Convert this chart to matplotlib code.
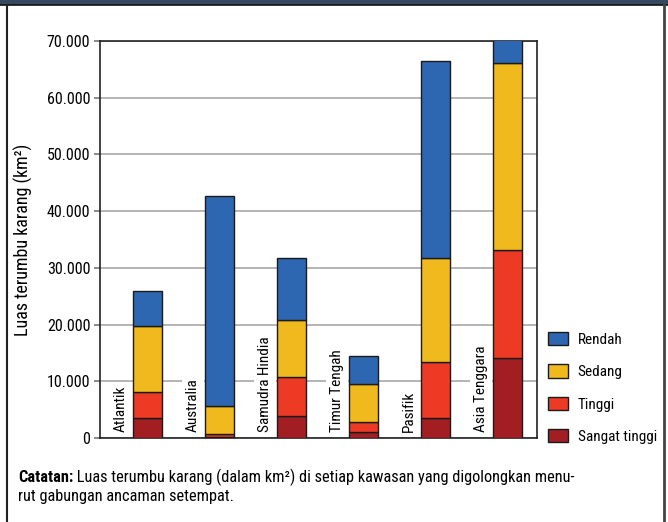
import numpy as np
import matplotlib.pyplot as plt
from matplotlib.patches import Rectangle
from matplotlib.lines import Line2D

plt.rcParams['font.family'] = ['Roboto Condensed', 'DejaVu Sans']

regions = ['Atlantik', 'Australia', 'Samudra Hindia', 'Timur Tengah', 'Pasifik', 'Asia Tenggara']
# km2 per threat level (stacked bottom -> top)
sangat_tinggi = [3500, 150, 3900, 1100, 3500, 14100]
tinggi = [4600, 500, 6900, 1700, 9900, 19100]
sedang = [11700, 5000, 10000, 6700, 18300, 32900]
rendah = [6100, 37100, 10900, 5000, 34800, 5000]

levels = ['Rendah', 'Sedang', 'Tinggi', 'Sangat tinggi']
colors = ['#2e67b1', '#f0b91d', '#ec3a25', '#a21e23']

fig = plt.figure(figsize=(6.68, 5.22), dpi=100)
ax = fig.add_axes([100/668, 1-438/522, 437/668, 397/522])

x = np.arange(len(regions))
bw = 0.40
stack = [sangat_tinggi, tinggi, sedang, rendah]
stack_colors = colors[::-1]
bottom = np.zeros(len(regions))
for vals, c in zip(stack, stack_colors):
    ax.bar(x, vals, bw, bottom=bottom, color=c, edgecolor='#1a1a1a', linewidth=1.0, zorder=3)
    bottom += np.array(vals)

ax.set_xlim(-0.66, 5.41)
ax.set_ylim(0, 70000)
ticks = np.arange(0, 70001, 10000)
ax.set_yticks(ticks)
ax.set_yticklabels([f'{v:,}'.replace(',', '.') for v in ticks], fontsize=11.5)
ax.set_xticks([])
ax.yaxis.grid(True, color='#a8a8a8', linewidth=1.2, zorder=0)
ax.tick_params(axis='y', length=4, color='#777777', width=1.2, pad=3)
for s in ax.spines.values():
    s.set_color('#222222')
    s.set_linewidth(1.2)
ax.set_ylabel('Luas terumbu karang (km²)', fontsize=13)
ax.yaxis.set_label_coords(-67/437, 0.5)

for xi, name in zip(x, regions):
    ax.text(xi - 0.37, 1000, name, rotation=90, ha='center', va='bottom', fontsize=11,
            zorder=2, bbox=dict(facecolor='white', edgecolor='none', pad=3))

handles = [Rectangle((0, 0), 1, 1, facecolor=c, edgecolor='#1a1a1a', linewidth=1.0) for c in colors]
fig.legend(handles, levels, loc='center left', bbox_to_anchor=(534/668, 1-388/522), frameon=False,
           fontsize=11, handlelength=1.35, handleheight=0.95, handletextpad=0.6, labelspacing=1.15)

bold = fig.text(18/668, 1-478/522, 'Catatan:', fontsize=11.75, fontweight='bold', va='center')
ax.annotate(' Luas terumbu karang (dalam km²) di setiap kawasan yang digolongkan menu-',
            xy=(1, 0), xycoords=bold, va='bottom', fontsize=11.75, annotation_clip=False)
fig.text(18/668, 1-497/522, 'rut gabungan ancaman setempat.', fontsize=11.75, va='center')

# frame and top band
fig.patches.append(Rectangle((0, 1-5/522), 1, 5/522, transform=fig.transFigure, facecolor='#354a60',
                             edgecolor='none', zorder=0))
fig.lines.append(Line2D([0, 1], [1-5/522]*2, transform=fig.transFigure, color='#111111', linewidth=1.2))
fig.lines.append(Line2D([7/668]*2, [0, 1-5/522], transform=fig.transFigure, color='#222222', linewidth=1.5))
fig.lines.append(Line2D([663.5/668]*2, [0, 1-5/522], transform=fig.transFigure, color='#444444', linewidth=2))

fig.savefig('out.png', dpi=100)
